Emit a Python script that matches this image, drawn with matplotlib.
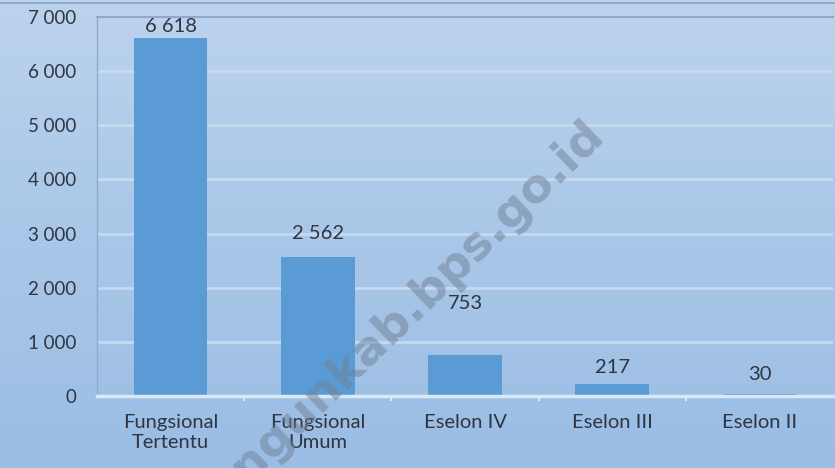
import numpy as np
import matplotlib
matplotlib.use("Agg")
import matplotlib.pyplot as plt
from matplotlib.colors import LinearSegmentedColormap

categories = ["Fungsional\nTertentu", "Fungsional\nUmum", "Eselon IV", "Eselon III", "Eselon II"]
values = [6618, 2562, 753, 217, 30]
value_labels = ["6 618", "2 562", "753", "217", "30"]
yticks = [0, 1000, 2000, 3000, 4000, 5000, 6000, 7000]
ytick_labels = ["0", "1 000", "2 000", "3 000", "4 000", "5 000", "6 000", "7 000"]
# how far each data label sits above its bar (points), as placed in the original
label_offsets = [8, 17, 37, 12, 14]

plt.rcParams["font.family"] = ["Lato", "DejaVu Sans"]
text_col = "#2f3542"

fig = plt.figure(figsize=(8.35, 4.68), dpi=100)

# gradient background over the whole figure
bg = fig.add_axes([0, 0, 1, 1], zorder=-10)
cmap = LinearSegmentedColormap.from_list("bg", ["#bcd3ee", "#a9c7e8", "#9bbde4"])
bg.imshow(np.linspace(0, 1, 256).reshape(-1, 1), aspect="auto", cmap=cmap,
          extent=[0, 1, 0, 1])
bg.axhline(1 - 3 / 468, color="#8da5c6", lw=1.2)
bg.set_xlim(0, 1)
bg.set_ylim(0, 1)
bg.axis("off")

ax = fig.add_axes([97 / 835, 1 - 396 / 468, (833 - 97) / 835, (396 - 17) / 468])
ax.patch.set_alpha(0)
x = np.arange(len(categories))
ax.bar(x, values, width=0.5, color="#5b9bd5", zorder=3)

for xi, v, lab, off in zip(x, values, value_labels, label_offsets):
    ax.annotate(lab, (xi, v), xytext=(0, off), textcoords="offset points",
                ha="center", va="center", fontsize=14.5, color=text_col, zorder=4)

ax.set_xlim(-0.5, len(categories) - 0.5)
ax.set_ylim(0, 7000)
ax.set_yticks(yticks)
ax.set_yticklabels(ytick_labels, fontsize=13.5, color=text_col)
ax.set_xticks(x)
ax.set_xticklabels(categories, fontsize=14.5, color=text_col, linespacing=1.2)
ax.tick_params(axis="y", length=0, pad=15)
ax.tick_params(axis="x", length=0, pad=13)

# gridlines: light ones, darker at top
for t in yticks[1:-1]:
    ax.axhline(t, color="#c6daf0", lw=2, zorder=1)
ax.axhline(7000, color="#8fa9cc", lw=1.5, zorder=1, clip_on=False)
ax.axhline(0, color="#dbe8f6", lw=2.5, zorder=5, clip_on=False)
for b in np.arange(0.5, len(categories) - 1, 1.0):
    ax.plot([b, b], [0, -70], color="#dbe8f6", lw=1.5, clip_on=False, zorder=5)

for s in ["top", "right", "bottom"]:
    ax.spines[s].set_visible(False)
ax.spines["left"].set_color("#8fa9cc")
ax.spines["left"].set_linewidth(1)

# site watermark (runs off the bottom edge, as in the original)
fig.text(598 / 835, 1 - 128 / 468, "sarolangunkab.bps.go.id", rotation=44,
         rotation_mode="anchor", ha="right", va="center", fontsize=34,
         fontweight="bold", family="DejaVu Sans", color="#6f7f94", alpha=0.5,
         zorder=20)

fig.savefig("out.png", dpi=100)
